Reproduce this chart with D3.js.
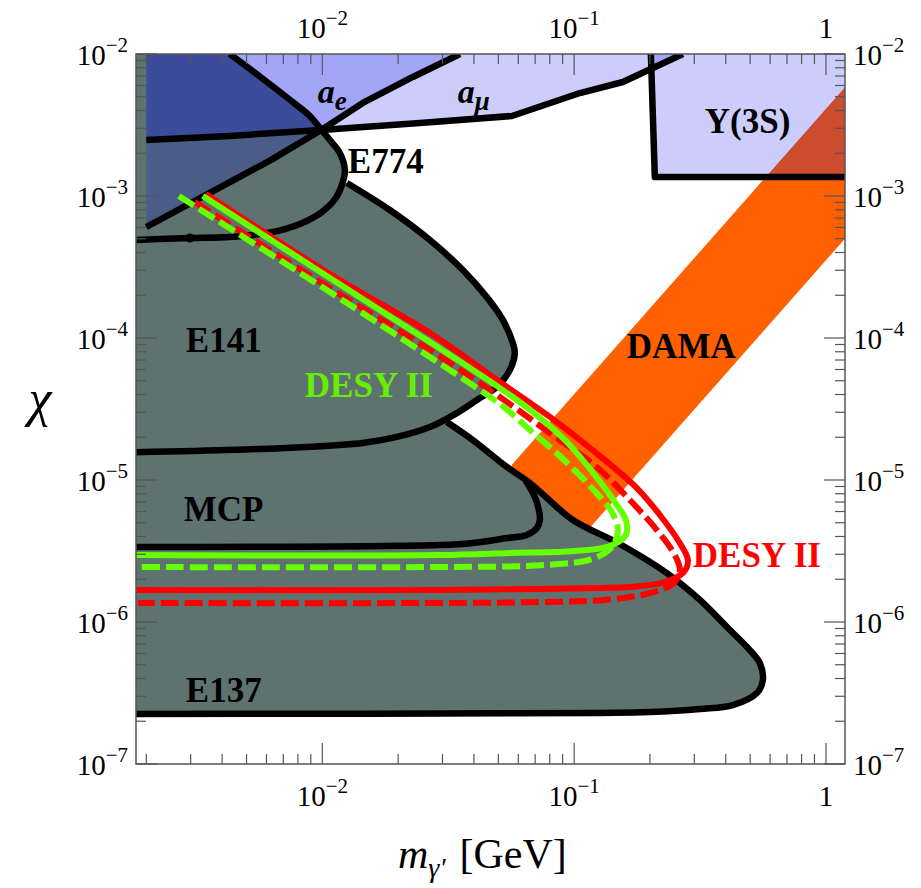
<!DOCTYPE html>
<html><head><meta charset="utf-8">
<script src="https://cdn.jsdelivr.net/npm/d3@7"></script>
<style>body{margin:0;background:#fff;} svg{display:block;}</style>
</head><body>
<svg id="chart" width="921" height="888"></svg>
<script>
// ---------------- data (m in GeV, chi) ----------------
const xTickValues = [0.01, 0.1, 1];
const xTickBase   = ["10", "10", "1"];
const xTickExp    = ["−2", "−1", ""];
const yTickValues = [1e-7, 1e-6, 1e-5, 1e-4, 1e-3, 1e-2];
const yTickBase   = ["10", "10", "10", "10", "10", "10"];
const yTickExp    = ["−7", "−6", "−5", "−4", "−3", "−2"];

// upper boundary of the grey (beam dump) region at high chi
const greyTopEdge = [[0.00429,1e-2],[0.00575,6.78e-3],[0.00763,4.59e-3],[0.00892,3.66e-3],[0.0099,2.92e-3]];
const e774 = [[0.0099,2.92e-3],[0.01071,2.48e-3],[0.01173,2.01e-3],[0.01229,1.525e-3],[0.01206,1.255e-3],[0.01131,9.68e-4],[0.00995,7.71e-4],[0.00814,6.35e-4],[0.00636,5.58e-4],[0.00429,5.14e-4],[0.00298,5.06e-4],[0.0018,4.9e-4]];
const e141 = [[0.01251,1.235e-3],[0.01853,7.97e-4],[0.02673,4.90e-4],[0.03614,3.01e-4],[0.04499,1.94e-4],[0.05209,1.34e-4],[0.05708,9.22e-5],[0.05813,7.84e-5],[0.05552,5.95e-5],[0.04932,4.52e-5],[0.04108,3.66e-5],[0.03421,2.96e-5],[0.02673,2.36e-5],[0.01976,2.01e-5],[0.01448,1.82e-5],[0.01131,1.76e-5],[0.00453,1.63e-5],[0.0018,1.57e-5]];
const e137 = [[0.03122,2.56e-5],[0.0396,1.91e-5],[0.05404,1.235e-5],[0.06671,9.53e-6],[0.09881,5.23e-6],[0.1492,3.60e-6],[0.2334,2.21e-6],[0.3157,1.43e-6],[0.4042,9.22e-7],[0.4853,6.67e-7],[0.5463,5.14e-7],[0.5615,3.90e-7],[0.5316,3.16e-7],[0.4269,2.60e-7],[0.3157,2.44e-7],[0.1999,2.32e-7],[0.1265,2.29e-7],[0.0018,2.25e-7]];
const mcp = [[0.0640,1.0e-5],[0.06982,7.59e-6],[0.07242,6.15e-6],[0.07309,5.23e-6],[0.07111,4.59e-6],[0.06491,4.10e-6],[0.05404,3.90e-6],[0.0396,3.60e-6],[0.02929,3.48e-6],[0.0018,3.37e-6]];
const e774Dot = [[0.00298,5.06e-4]];

const aeEdge  = [[0.002,6.05e-4],[0.00624,1.79e-3],[0.0099,2.92e-3],[0.01448,4.52e-3],[0.02288,6.89e-3],[0.0352,1e-2]];
const amuEdge = [[0.002,2.48e-3],[0.00429,2.65e-3],[0.0099,2.92e-3],[0.02439,3.27e-3],[0.0566,3.66e-3],[0.1054,5.31e-3],[0.1561,6.35e-3],[0.2702,1e-2]];
const upsEdge = [[0.2017,1e-2],[0.2091,1.36e-3],[1.19,1.36e-3]];

const damaMass  = [0.0566, 1.2];
const damaUpper = [1.28e-5, 5.93e-3];
const damaLower = [1.10e-6, 5.09e-4];

const desyRedSolid = [[3.446e-3,1.033e-3],[1.071e-2,2.823e-4],[2.673e-2,1.084e-4],[5.07e-2,4.90e-5],[8.01e-2,2.78e-5],[0.1209,1.575e-5],[0.1774,8.78e-6],[0.2189,5.67e-6],[0.2581,3.78e-6],[0.2829,2.73e-6],[0.2727,2.25e-6],[0.2292,1.913e-6],[0.1664,1.764e-6],[0.1265,1.736e-6],[7.31e-2,1.708e-6],[2.93e-2,1.68e-6],[1.8e-3,1.68e-6]];
const desyRedDashed = [[3.115e-3,9.07e-4],[1.071e-2,2.25e-4],[2.673e-2,8.23e-5],[5.07e-2,3.84e-5],[8.01e-2,2.14e-5],[0.1242,1.215e-5],[0.1664,7.23e-6],[0.2130,4.44e-6],[0.2511,2.96e-6],[0.2629,2.32e-6],[0.2488,1.882e-6],[0.1999,1.60e-6],[0.1324,1.43e-6],[7.31e-2,1.383e-6],[2.93e-2,1.361e-6],[1.85e-3,1.36e-6]];
const desyGreenSolid = [[3.353e-3,1.0e-3],[1.071e-2,2.645e-4],[2.673e-2,9.37e-5],[4.932e-2,4.59e-5],[6.855e-2,3.01e-5],[9.19e-2,1.913e-5],[0.1209,1.084e-5],[0.1451,7.00e-6],[0.1604,5.23e-6],[0.1604,4.10e-6],[0.1386,3.43e-6],[0.1006,3.16e-6],[5.55e-2,3.06e-6],[2.93e-2,2.96e-6],[1.8e-3,2.96e-6]];
const desyGreenDashed = [[2.692e-3,1.0e-3],[1.071e-2,2.108e-4],[2.673e-2,7.35e-5],[5.07e-2,3.43e-5],[6.67e-2,2.25e-5],[8.77e-2,1.476e-5],[0.1176,8.78e-6],[0.1411,5.95e-6],[0.1492,4.44e-6],[0.1411,3.37e-6],[0.1176,2.78e-6],[7.65e-2,2.52e-6],[2.93e-2,2.44e-6],[1.85e-3,2.44e-6]];

const labelText = ["E774","E141","MCP","E137","DAMA","Υ(3S)","DESY II","DESY II"];
const labelPos  = [[0.01263,1.452e-3],[2.87e-3,7.97e-5],[2.818e-3,5.14e-6],[2.87e-3,2.73e-7],[0.1619,7.23e-5],[0.3304,2.78e-3],[8.52e-3,3.84e-5],[0.296,2.44e-6]];
const labelColor = ["#000","#000","#000","#000","#000","#000","#66f000","#ff0000"];
const gLabelPos = [[9.6e-3,4.52e-3],[3.45e-2,4.52e-3]]; // a_e, a_mu
const gLabelSub = ["e","μ"];

// ---------------- layout ----------------
const L = 136, R = 845, T = 54, B = 764;
const x = d3.scaleLog().domain([0.00182, 1.19]).range([L, R]);
const y = d3.scaleLog().domain([1e-7, 1e-2]).range([B, T]);
const svg = d3.select("#chart");
const FONT = "Liberation Serif, Times New Roman, serif";

svg.append("defs").append("clipPath").attr("id","plotclip")
  .append("rect").attr("x",L).attr("y",T).attr("width",R-L).attr("height",B-T);
const plot = svg.append("g").attr("clip-path","url(#plotclip)");

const smooth = d3.line().x(d=>x(d[0])).y(d=>y(d[1])).curve(d3.curveCatmullRom.alpha(0.5));
const lin = d3.line().x(d=>x(d[0])).y(d=>y(d[1]));
const cont = s => s.replace(/^M/,"L");

// DAMA band (opaque)
const damaPoly = damaMass.map((m,i)=>[m,damaUpper[i]]).concat(damaMass.map((m,i)=>[m,damaLower[i]]).reverse());
plot.append("path").attr("d", lin(damaPoly)+"Z").attr("fill","#ff6000");

// grey exclusion regions
const GREY = "#5e7370";
plot.append("path").attr("fill",GREY)
  .attr("d", lin([[0.0018,1e-2],[0.00429,1e-2]]) + cont(smooth(greyTopEdge)) + cont(smooth(e774)) + "Z");
plot.append("path").attr("fill",GREY)
  .attr("d", smooth(e141) + cont(lin([[0.0018,1.3e-3]])) + "Z");
plot.append("path").attr("fill",GREY)
  .attr("d", smooth(e137) + cont(lin([[0.0018,3e-5],[0.02,3e-5]])) + "Z");

// translucent blue regions
const BLUE = "rgba(0,5,230,0.2)";
plot.append("path").attr("fill",BLUE).attr("d", lin(aeEdge.concat([[0.002,1e-2]]))+"Z");
plot.append("path").attr("fill",BLUE).attr("d", lin(amuEdge.concat([[0.002,1e-2]]))+"Z");
plot.append("path").attr("fill",BLUE).attr("d", lin(upsEdge.concat([[1.19,1e-2]]))+"Z");

// black outlines
const OUTW = 6.5;
[greyTopEdge, e774, e141, e137, mcp].forEach(c => plot.append("path").attr("d", smooth(c))
  .attr("fill","none").attr("stroke","#000").attr("stroke-width",OUTW).attr("stroke-linejoin","round"));
[aeEdge, amuEdge, upsEdge].forEach(c => plot.append("path").attr("d", lin(c))
  .attr("fill","none").attr("stroke","#000").attr("stroke-width",OUTW).attr("stroke-linejoin","round"));
plot.selectAll("circle.dot").data(e774Dot).enter().append("circle")
  .attr("cx",d=>x(d[0])).attr("cy",d=>y(d[1])).attr("r",4.5).attr("fill","#000");

// DESY II curves
const desy = [
  {d: desyRedSolid, c:"#ff0000", dash:null},
  {d: desyRedDashed, c:"#ff0000", dash:"18,6"},
  {d: desyGreenSolid, c:"#66ff00", dash:null},
  {d: desyGreenDashed, c:"#66ff00", dash:"18,6"}
];
desy.forEach(s => plot.append("path").attr("d", smooth(s.d)).attr("fill","none")
  .attr("stroke",s.c).attr("stroke-width",6).attr("stroke-dasharray",s.dash));

// region labels
labelText.forEach((t,i) => svg.append("text").attr("x",x(labelPos[i][0])).attr("y",y(labelPos[i][1]))
  .attr("font-family",FONT).attr("font-weight","bold").attr("font-size",35)
  .attr("fill",labelColor[i]).text(t));
gLabelPos.forEach((p,i) => {
  const t = svg.append("text").attr("x",x(p[0])).attr("y",y(p[1]))
    .attr("font-family",FONT).attr("font-weight","bold").attr("font-style","italic").attr("font-size",34);
  t.append("tspan").text("a");
  t.append("tspan").attr("dy",7).attr("font-size",27).text(gLabelSub[i]);
});

// frame and ticks
const AX = "#555";
svg.append("rect").attr("x",L).attr("y",T).attr("width",R-L).attr("height",B-T)
  .attr("fill","none").attr("stroke",AX).attr("stroke-width",1.5);
const ticksG = svg.append("g").attr("stroke",AX).attr("stroke-width",1.2);
const xMinor = [], yMinor = [];
for (let e=-3; e<=0; e++) for (let k=2;k<=9;k++){ const v=k*Math.pow(10,e); if (v>=0.00182 && v<=1.19) xMinor.push(v); }
for (let e=-7; e<=-3; e++) for (let k=2;k<=9;k++){ yMinor.push(k*Math.pow(10,e)); }
const tick = (x1,y1,x2,y2)=>ticksG.append("line").attr("x1",x1).attr("y1",y1).attr("x2",x2).attr("y2",y2);
xTickValues.forEach(v=>{ tick(x(v),B,x(v),B-21); tick(x(v),T,x(v),T+21); });
xMinor.forEach(v=>{ tick(x(v),B,x(v),B-10); tick(x(v),T,x(v),T+10); });
yTickValues.forEach(v=>{ tick(L,y(v),L+21,y(v)); tick(R,y(v),R-21,y(v)); });
yMinor.forEach(v=>{ tick(L,y(v),L+10,y(v)); tick(R,y(v),R-10,y(v)); });

// tick labels
function tickLabel(xp, yp, anchor, base, exp){
  const t = svg.append("text").attr("x",xp).attr("y",yp).attr("text-anchor",anchor)
    .attr("font-family",FONT).attr("font-size",29).attr("fill","#000");
  t.append("tspan").text(base);
  if (exp) t.append("tspan").attr("dy",-13).attr("font-size",21).text(exp);
}
xTickValues.forEach((v,i)=>{ tickLabel(x(v),806,"middle",xTickBase[i],xTickExp[i]);
                             tickLabel(x(v),38,"middle",xTickBase[i],xTickExp[i]); });
yTickValues.forEach((v,i)=>{ tickLabel(L-8,y(v)+11,"end",yTickBase[i],yTickExp[i]);
                             tickLabel(R+8,y(v)+11,"start",yTickBase[i],yTickExp[i]); });

// axis titles
svg.append("text").attr("x",40).attr("y",416).attr("text-anchor","middle")
  .attr("font-family",FONT).attr("font-style","italic").attr("font-size",52).text("χ");
const xt = svg.append("text").attr("x",398).attr("y",868).attr("text-anchor","start")
  .attr("font-family",FONT).attr("font-size",42);
xt.append("tspan").attr("font-style","italic").text("m");
xt.append("tspan").attr("font-style","italic").attr("font-size",28).attr("dy",9).text("γ′");
xt.append("tspan").attr("dy",-9).attr("dx",14).text("[GeV]");
</script>
</body></html>
